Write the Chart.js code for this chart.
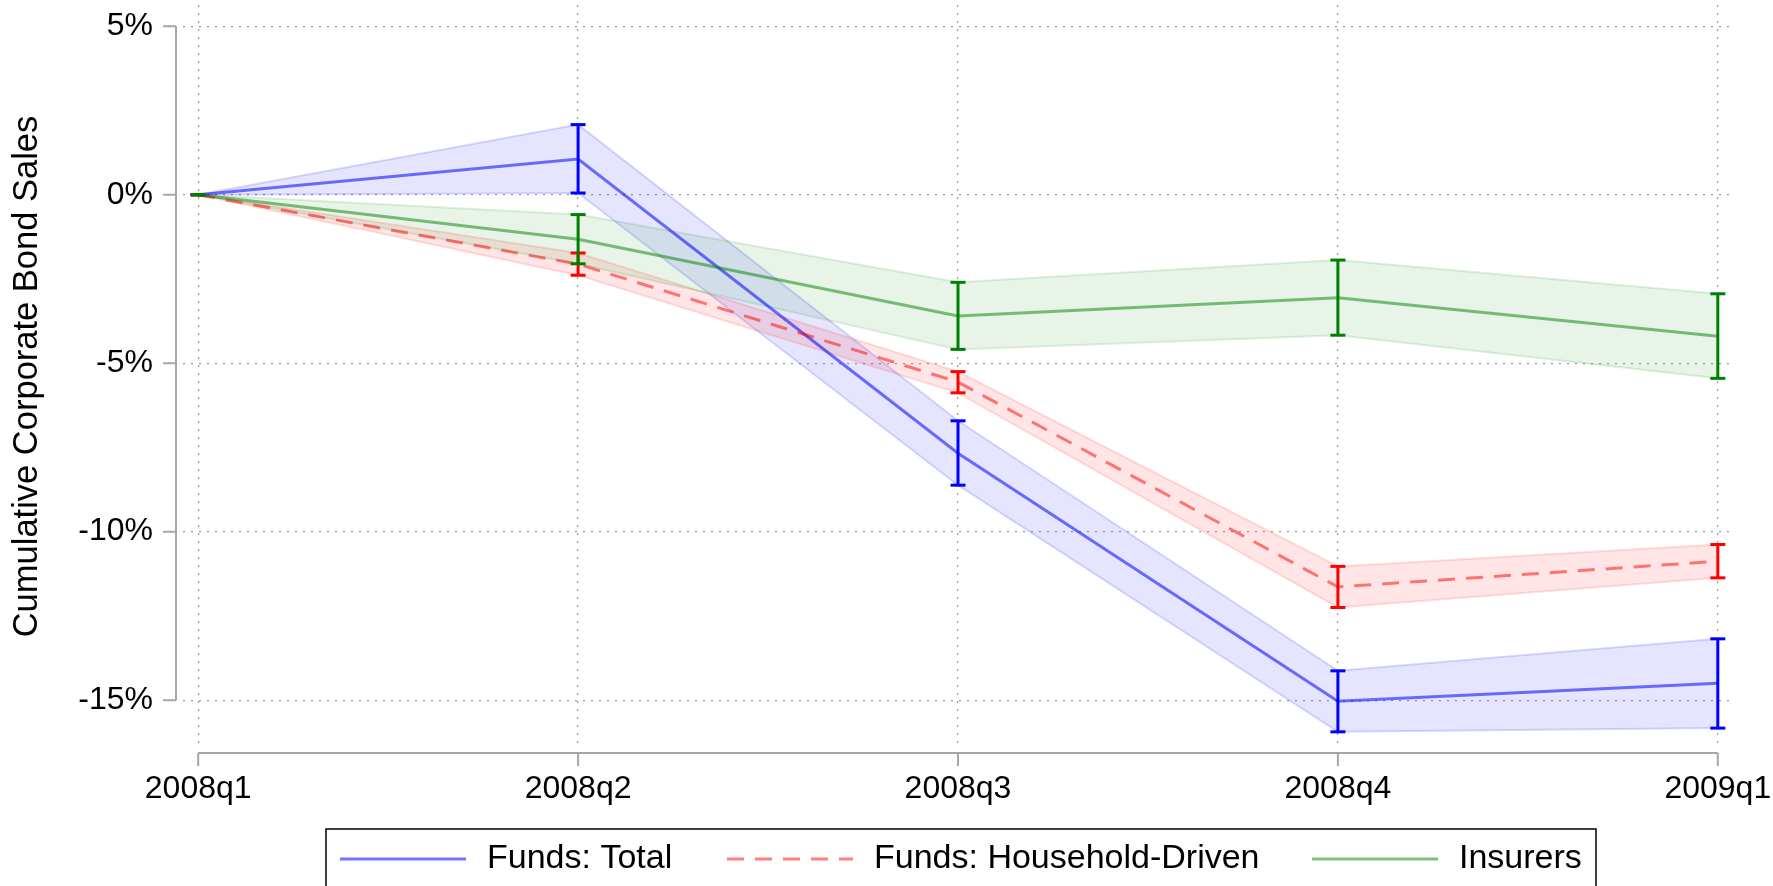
<!DOCTYPE html>
<html><head><meta charset="utf-8">
<script src="https://cdn.jsdelivr.net/npm/chart.js@4.4.1/dist/chart.umd.min.js"></script>
<style>html,body{margin:0;padding:0;background:#fff;overflow:hidden}canvas{display:block}</style>
</head><body>
<canvas id="c" width="1773" height="886"></canvas>
<script>
// ---- data ----
const categories = ['2008q1', '2008q2', '2008q3', '2008q4', '2009q1'];
const yTicks = [5, 0, -5, -10, -15];
const yTickLabels = ['5%', '0%', '-5%', '-10%', '-15%'];

const fundsTotal   = [0, 1.06, -7.67, -15.03, -14.50];
const fundsTotalLo = [0, 0.05, -8.62, -15.94, -15.83];
const fundsTotalHi = [0, 2.08, -6.71, -14.13, -13.18];

const fundsHH   = [0, -2.06, -5.56, -11.64, -10.88];
const fundsHHLo = [0, -2.39, -5.88, -12.25, -11.37];
const fundsHHHi = [0, -1.73, -5.25, -11.03, -10.38];

const insurers   = [0, -1.32, -3.60, -3.06, -4.20];
const insurersLo = [0, -2.05, -4.59, -4.17, -5.45];
const insurersHi = [0, -0.59, -2.60, -1.94, -2.94];

const seriesNames = ['Funds: Total', 'Funds: Household-Driven', 'Insurers'];

// ---- styling ----
const FONT = "'Liberation Sans', Arial, Helvetica, sans-serif";
const pts = arr => arr.map((v, i) => ({x: i, y: v}));
const errPts = (lo, hi) => lo.flatMap((v, i) => [{x: i, y: v}, {x: i, y: hi[i]}, {x: i, y: null}]);

function band(name, lo, hi, fillCol, edgeCol, order) {
  return [
    {label: name + ' upper', data: pts(hi), borderColor: edgeCol, borderWidth: 2, backgroundColor: fillCol,
     fill: '+1', pointRadius: 0, order: order},
    {label: name + ' lower', data: pts(lo), borderColor: edgeCol, borderWidth: 2, backgroundColor: fillCol,
     fill: false, pointRadius: 0, order: order}
  ];
}
function mainLine(name, vals, col, dash, order) {
  return {label: name, data: pts(vals), borderColor: col, borderWidth: 3, borderDash: dash,
          fill: false, pointRadius: 0, order: order, isMain: true};
}
function errBars(name, lo, hi, col, order) {
  return {label: name + ' CI', data: errPts(lo, hi), borderColor: col, borderWidth: 3, fill: false,
          spanGaps: false, pointStyle: 'line', pointRadius: 7.5, pointBorderWidth: 3,
          pointBorderColor: col, pointBackgroundColor: col, order: order};
}

const datasets = [
  ...band(seriesNames[0], fundsTotalLo, fundsTotalHi, 'rgba(0,0,255,0.10)', 'rgba(0,0,255,0.15)', 100),
  ...band(seriesNames[1], fundsHHLo, fundsHHHi, 'rgba(255,0,0,0.10)', 'rgba(255,0,0,0.13)', 90),
  ...band(seriesNames[2], insurersLo, insurersHi, 'rgba(0,128,0,0.09)', 'rgba(0,128,0,0.13)', 80),
  mainLine(seriesNames[0], fundsTotal, 'rgba(0,0,255,0.55)', [], 70),
  mainLine(seriesNames[1], fundsHH, 'rgba(255,0,0,0.5)', [17, 11], 60),
  mainLine(seriesNames[2], insurers, 'rgba(0,128,0,0.5)', [], 50),
  errBars(seriesNames[0], fundsTotalLo, fundsTotalHi, '#0000ff', 30),
  errBars(seriesNames[1], fundsHHLo, fundsHHHi, '#ff0000', 20),
  errBars(seriesNames[2], insurersLo, insurersHi, '#008000', 10)
];

// Stata-style offset axis lines
const axisPlugin = {
  id: 'stataAxes',
  beforeDatasetsDraw(chart) {
    const {ctx, scales: {x, y}, chartArea} = chart;
    ctx.save();
    ctx.strokeStyle = '#a6a6a6';
    ctx.lineWidth = 2;
    const ax = chartArea.left - 7;
    ctx.beginPath();
    ctx.moveTo(ax, y.getPixelForValue(yTicks[0]));
    ctx.lineTo(ax, y.getPixelForValue(yTicks[yTicks.length - 1]));
    yTicks.forEach(v => { const p = y.getPixelForValue(v); ctx.moveTo(ax - 13, p); ctx.lineTo(ax, p); });
    const ay = chartArea.bottom + 5;
    ctx.moveTo(x.getPixelForValue(0), ay);
    ctx.lineTo(x.getPixelForValue(categories.length - 1), ay);
    categories.forEach((c, i) => { const p = x.getPixelForValue(i); ctx.moveTo(p, ay); ctx.lineTo(p, ay + 13); });
    ctx.stroke();
    ctx.restore();
  }
};

// boxed legend at the bottom (Stata style)
const legendPlugin = {
  id: 'stataLegend',
  afterDraw(chart) {
    const {ctx} = chart;
    const mains = chart.data.datasets.filter(d => d.isMain);
    const box = {left: 326, top: 829, right: 1596, bottom: 895};
    const starts = [340, 727, 1312];
    const cy = 859;
    ctx.save();
    ctx.strokeStyle = '#000';
    ctx.lineWidth = 1.5;
    ctx.strokeRect(box.left, box.top, box.right - box.left, box.bottom - box.top);
    ctx.font = '34px ' + FONT;
    ctx.textBaseline = 'middle';
    ctx.fillStyle = '#000';
    mains.forEach((d, i) => {
      ctx.save();
      ctx.strokeStyle = d.borderColor;
      ctx.lineWidth = 3;
      ctx.setLineDash(d.borderDash || []);
      ctx.beginPath();
      ctx.moveTo(starts[i], cy);
      ctx.lineTo(starts[i] + 126, cy);
      ctx.stroke();
      ctx.restore();
      ctx.fillText(d.label, starts[i] + 147, cy);
    });
    ctx.restore();
  }
};

new Chart(document.getElementById('c'), {
  type: 'line',
  data: {datasets},
  plugins: [axisPlugin, legendPlugin],
  options: {
    responsive: false,
    animation: false,
    devicePixelRatio: 1,
    layout: {autoPadding: false, padding: {top: 5, right: 40, bottom: 78, left: 0}},
    plugins: {legend: {display: false}, tooltip: {enabled: false}, filler: {propagate: false}},
    elements: {line: {tension: 0}},
    scales: {
      x: {
        type: 'linear', min: -0.04, max: 4.04,
        afterBuildTicks: s => { s.ticks = categories.map((c, i) => ({value: i})); },
        afterFit: s => { s.height = 60; s.paddingLeft = 0; s.paddingRight = 0; },
        ticks: {callback: v => categories[v], font: {family: FONT, size: 32}, color: '#000',
                padding: 22, maxRotation: 0, autoSkip: false},
        grid: {drawTicks: false, color: '#9a9a9a', lineWidth: 1.2},
        border: {display: false, dash: [2, 6]}
      },
      y: {
        min: -16.42, max: 5.63,
        afterBuildTicks: s => { s.ticks = yTicks.map(v => ({value: v})); },
        afterFit: s => { s.width = 183; s.paddingTop = 0; s.paddingBottom = 0; },
        ticks: {callback: v => { const k = yTicks.indexOf(v); return k >= 0 ? yTickLabels[k] : ''; },
                font: {family: FONT, size: 32}, color: '#000', padding: 30},
        grid: {drawTicks: false, color: '#9a9a9a', lineWidth: 1.2},
        border: {display: false, dash: [2, 6]},
        title: {display: true, text: 'Cumulative Corporate Bond Sales', font: {family: FONT, size: 34.5},
                color: '#000', padding: {top: 7, bottom: 0}}
      }
    }
  }
});
</script>
</body></html>
